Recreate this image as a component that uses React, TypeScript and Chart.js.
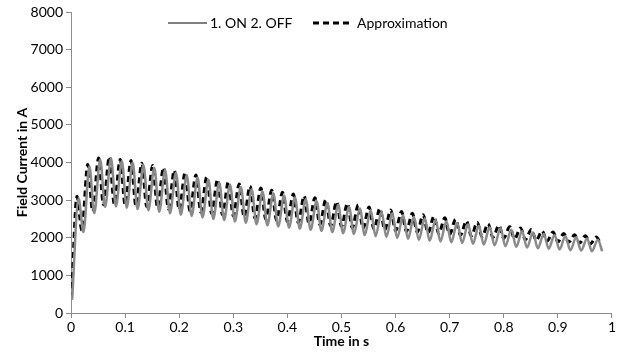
import React, { useEffect, useRef } from "react";
import { Chart, registerables } from "chart.js";

Chart.register(...registerables);

// Approximation (black dashed): time in s, current in A
const approxTime = [
  0.001, 0.011, 0.020, 0.031, 0.040, 0.051, 0.060, 0.071, 0.080, 0.091,
  0.100, 0.111, 0.120, 0.131, 0.140, 0.151, 0.160, 0.171, 0.180, 0.191,
  0.200, 0.211, 0.220, 0.231, 0.240, 0.251, 0.260, 0.271, 0.280, 0.291,
  0.300, 0.311, 0.320, 0.331, 0.340, 0.351, 0.360, 0.371, 0.380, 0.391,
  0.400, 0.411, 0.420, 0.431, 0.440, 0.451, 0.460, 0.471, 0.480, 0.491,
  0.500, 0.511, 0.520, 0.531, 0.540, 0.551, 0.560, 0.571, 0.580, 0.591,
  0.600, 0.611, 0.620, 0.631, 0.640, 0.651, 0.660, 0.671, 0.680, 0.691,
  0.700, 0.711, 0.720, 0.731, 0.740, 0.751, 0.760, 0.771, 0.780, 0.791,
  0.800, 0.811, 0.820, 0.831, 0.840, 0.851, 0.860, 0.871, 0.880, 0.891,
  0.900, 0.911, 0.920, 0.931, 0.940, 0.951, 0.960, 0.971, 0.978,
];
const approxCurrent = [
  400, 3100, 2200, 3950, 2700, 4120, 2880, 4150, 2900, 4080,
  2880, 4050, 2850, 3980, 2830, 3920, 2800, 3860, 2770, 3790,
  2740, 3730, 2710, 3670, 2680, 3610, 2650, 3550, 2610, 3490,
  2580, 3430, 2550, 3370, 2520, 3320, 2490, 3260, 2460, 3210,
  2430, 3160, 2400, 3110, 2380, 3060, 2350, 3010, 2320, 2960,
  2300, 2910, 2270, 2870, 2250, 2820, 2230, 2780, 2210, 2740,
  2190, 2700, 2170, 2650, 2150, 2610, 2130, 2570, 2110, 2530,
  2090, 2490, 2070, 2450, 2050, 2410, 2030, 2370, 2010, 2330,
  1990, 2290, 1970, 2260, 1950, 2220, 1930, 2180, 1910, 2150,
  1890, 2110, 1880, 2080, 1860, 2050, 1840, 2020, 1880,
];

// Measured "1. ON 2. OFF" (gray solid)
const measTime = [
  0.002, 0.014, 0.023, 0.034, 0.043, 0.054, 0.063, 0.074, 0.083, 0.094,
  0.103, 0.114, 0.123, 0.134, 0.143, 0.154, 0.163, 0.174, 0.183, 0.194,
  0.203, 0.214, 0.223, 0.234, 0.243, 0.254, 0.263, 0.274, 0.283, 0.294,
  0.303, 0.314, 0.323, 0.334, 0.343, 0.354, 0.363, 0.374, 0.383, 0.394,
  0.403, 0.414, 0.423, 0.434, 0.443, 0.454, 0.463, 0.474, 0.483, 0.494,
  0.503, 0.514, 0.523, 0.534, 0.543, 0.554, 0.563, 0.574, 0.583, 0.594,
  0.603, 0.614, 0.623, 0.634, 0.643, 0.654, 0.663, 0.674, 0.683, 0.694,
  0.703, 0.714, 0.723, 0.734, 0.743, 0.754, 0.763, 0.774, 0.783, 0.794,
  0.803, 0.814, 0.823, 0.834, 0.843, 0.854, 0.863, 0.874, 0.883, 0.894,
  0.903, 0.914, 0.923, 0.934, 0.943, 0.954, 0.963, 0.974, 0.982,
];
const measCurrent = [
  350, 3050, 2150, 3900, 2650, 4080, 2820, 4110, 2830, 4040,
  2800, 4000, 2760, 3930, 2730, 3860, 2690, 3800, 2650, 3730,
  2610, 3660, 2580, 3600, 2540, 3540, 2500, 3470, 2470, 3410,
  2430, 3350, 2400, 3290, 2360, 3230, 2330, 3180, 2300, 3120,
  2270, 3070, 2240, 3020, 2210, 2970, 2180, 2920, 2150, 2870,
  2120, 2820, 2100, 2780, 2070, 2730, 2040, 2690, 2020, 2650,
  1990, 2600, 1970, 2560, 1940, 2520, 1920, 2480, 1900, 2440,
  1880, 2400, 1860, 2360, 1840, 2320, 1820, 2280, 1800, 2250,
  1780, 2210, 1760, 2170, 1740, 2140, 1720, 2100, 1710, 2070,
  1690, 2040, 1670, 2010, 1660, 1980, 1640, 1950, 1640,
];

const xTicks = [0, 0.1, 0.2, 0.3, 0.4, 0.5, 0.6, 0.7, 0.8, 0.9, 1];
const yTicks = [0, 1000, 2000, 3000, 4000, 5000, 6000, 7000, 8000];

const seriesNames = ["1. ON 2. OFF", "Approximation"];

const FONT = "Lato, 'Liberation Sans', sans-serif";
const AXIS_COLOR = "#8c8c8c";

const legendPlugin = {
  id: "inlineLegend",
  afterDraw(chart: any) {
    const ctx = chart.ctx;
    const y = 23;
    ctx.save();
    ctx.font = `14px ${FONT}`;
    ctx.textBaseline = "middle";
    ctx.fillStyle = "#000";
    ctx.strokeStyle = "#808080";
    ctx.lineWidth = 2;
    ctx.setLineDash([]);
    ctx.beginPath();
    ctx.moveTo(168, y);
    ctx.lineTo(207, y);
    ctx.stroke();
    ctx.fillText(seriesNames[0], 210, y);
    ctx.strokeStyle = "#000";
    ctx.lineWidth = 3;
    ctx.setLineDash([6, 4]);
    ctx.beginPath();
    ctx.moveTo(313, y);
    ctx.lineTo(349, y);
    ctx.stroke();
    ctx.setLineDash([]);
    ctx.fillText(seriesNames[1], 357, y);
    ctx.restore();
  },
};

export default function App() {
  const ref = useRef<HTMLCanvasElement | null>(null);

  useEffect(() => {
    if (!ref.current) return;
    const chart = new Chart(ref.current, {
      type: "line",
      data: {
        datasets: [
          {
            label: seriesNames[0],
            data: measTime.map((t, i) => ({ x: t, y: measCurrent[i] })),
            borderColor: "#8a8a8a",
            borderWidth: 2.5,
            pointRadius: 0,
            cubicInterpolationMode: "monotone",
            fill: false,
          },
          {
            label: seriesNames[1],
            data: approxTime.map((t, i) => ({ x: t, y: approxCurrent[i] })),
            borderColor: "#000000",
            borderWidth: 3,
            borderDash: [6, 4],
            pointRadius: 0,
            cubicInterpolationMode: "monotone",
            fill: false,
          },
        ],
      },
      options: {
        animation: false,
        responsive: false,
        maintainAspectRatio: false,
        layout: { padding: { top: 12, right: 4, left: 0, bottom: 0 } },
        plugins: {
          legend: { display: false },
          tooltip: { enabled: false },
        },
        scales: {
          x: {
            type: "linear",
            min: 0,
            max: 1,
            afterBuildTicks: (scale: any) => {
              scale.ticks = xTicks.map((v) => ({ value: v }));
            },
            afterFit: (scale: any) => {
              scale.height = 41;
            },
            grid: {
              drawOnChartArea: false,
              drawTicks: true,
              tickLength: 5,
              color: AXIS_COLOR,
            },
            border: { color: AXIS_COLOR, width: 1 },
            ticks: {
              color: "#000",
              font: { family: FONT, size: 14 },
              padding: 1,
              maxRotation: 0,
              autoSkip: false,
              callback: (v: any) => String(v),
            },
            title: {
              display: true,
              text: "Time in s",
              color: "#000",
              font: { family: FONT, size: 14, weight: "bold" },
              padding: { top: 0, bottom: 4 },
            },
          },
          y: {
            type: "linear",
            min: 0,
            max: 8000,
            afterBuildTicks: (scale: any) => {
              scale.ticks = yTicks.map((v) => ({ value: v }));
            },
            afterFit: (scale: any) => {
              scale.width = 71;
            },
            grid: {
              drawOnChartArea: false,
              drawTicks: true,
              tickLength: 5,
              color: AXIS_COLOR,
            },
            border: { color: AXIS_COLOR, width: 1 },
            ticks: {
              color: "#000",
              font: { family: FONT, size: 14 },
              padding: 3,
              autoSkip: false,
              callback: (v: any) => String(v),
            },
            title: {
              display: true,
              text: "Field Current in A",
              color: "#000",
              font: { family: FONT, size: 14, weight: "bold" },
              padding: { top: 14, bottom: 0 },
            },
          },
        },
      },
      plugins: [legendPlugin],
    });
    return () => chart.destroy();
  }, []);

  return (
    <div style={{ position: "fixed", left: 0, top: 0, width: 617, height: 354, background: "#fff" }}>
      <canvas ref={ref} width={617} height={354} style={{ width: 617, height: 354, display: "block" }} />
    </div>
  );
}
